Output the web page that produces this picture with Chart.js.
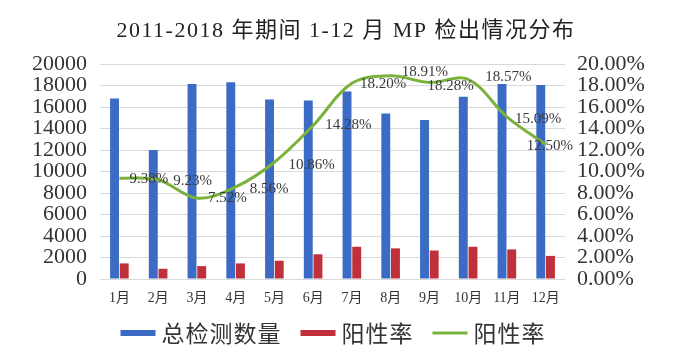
<!DOCTYPE html>
<html><head><meta charset="utf-8">
<script src="https://cdn.jsdelivr.net/npm/chart.js@4"></script>
<style>html,body{margin:0;padding:0;background:#fff}#wrap{width:684px;height:356px;position:relative}</style>
</head><body><div id="wrap"><canvas id="c"></canvas></div>
<script>
const categories = ['1月','2月','3月','4月','5月','6月','7月','8月','9月','10月','11月','12月'];
const totalTests = [16800,12000,18150,18300,16700,16600,17450,15400,14800,16950,18150,18050];
const positiveCount = [1450,950,1200,1450,1700,2300,3000,2850,2650,3000,2750,2150];
const positiveRate = [9.38,9.23,7.52,8.56,10.86,14.28,18.20,18.91,18.28,18.57,15.09,12.50];
const leftTicks = [0,2000,4000,6000,8000,10000,12000,14000,16000,18000,20000];
const rightTicks = [0,2,4,6,8,10,12,14,16,18,20];
const titleText = '2011-2018 年期间 1-12 月 MP 检出情况分布';

const serif = "'Liberation Serif','Noto Sans CJK SC',serif";
// label offsets (style only): left edge dx, dy from the point
const labelDx = [10,15,11,14,14,12,8,11,-2,17,8,-19];
const labelDy = [1,1,0,2,3,0,1,-4,4,-2,2,1];

const decor = {
  id:'decor',
  afterDatasetsDraw(chart){
    const meta = chart.getDatasetMeta(2);
    const ctx = chart.ctx;
    ctx.save();
    ctx.font = "15px " + serif;
    ctx.fillStyle = '#3a3a3a';
    ctx.textBaseline = 'middle';
    ctx.textAlign = 'left';
    meta.data.forEach((pt,i)=>{
      ctx.fillText(positiveRate[i].toFixed(2)+'%',pt.x+labelDx[i],pt.y+labelDy[i]);
    });
    ctx.restore();
  },
  afterDraw(chart){
    const ctx = chart.ctx;
    // title
    ctx.save();
    ctx.font = "22px " + serif;
    ctx.letterSpacing = '1.5px';
    ctx.fillStyle = '#222';
    ctx.textBaseline = 'middle';
    ctx.textAlign = 'center';
    ctx.fillText(titleText, 346, 31);
    ctx.restore();
    // legend
    ctx.save();
    ctx.font = "23px 'Noto Sans CJK SC',sans-serif";
    ctx.letterSpacing = '1px';
    ctx.textBaseline = 'middle';
    ctx.textAlign = 'left';
    const ds = chart.data.datasets;
    const boxW = 35, gap = 6, itemGap = 19, cy = 333;
    const widths = ds.map(d=>ctx.measureText(d.label).width);
    let total = 0;
    widths.forEach((w,i)=>{ total += boxW + gap + w + (i? itemGap:0); });
    let x = 333 - total/2;
    ds.forEach((d,i)=>{
      if(d.type==='line'){
        ctx.strokeStyle = d.borderColor; ctx.lineWidth = 3;
        ctx.beginPath(); ctx.moveTo(x, cy); ctx.lineTo(x+boxW, cy); ctx.stroke();
      } else {
        ctx.fillStyle = d.backgroundColor; ctx.fillRect(x, cy-3, boxW, 6);
      }
      ctx.fillStyle = '#333';
      ctx.fillText(d.label, x+boxW+gap, cy);
      x += boxW + gap + widths[i] + itemGap;
    });
    ctx.restore();
  }
};

new Chart(document.getElementById('c'),{
  data:{
    labels:categories,
    datasets:[
      {type:'bar',label:'总检测数量',data:totalTests,backgroundColor:'#3b6bc4',yAxisID:'y',order:2,categoryPercentage:0.5,barPercentage:0.92},
      {type:'bar',label:'阳性率',data:positiveCount,backgroundColor:'#c0303a',yAxisID:'y',order:2,categoryPercentage:0.5,barPercentage:0.92},
      {type:'line',label:'阳性率',data:positiveRate,borderColor:'#7ab33c',borderWidth:3,pointRadius:0,tension:0.35,yAxisID:'y1',order:1,fill:false}
    ]
  },
  options:{
    responsive:true,maintainAspectRatio:false,animation:false,
    layout:{padding:{left:0,right:0,top:64,bottom:47}},
    plugins:{
      title:{display:false},
      legend:{display:false},
      tooltip:{enabled:false}
    },
    scales:{
      x:{grid:{display:false,drawTicks:false},border:{display:false},afterFit(s){s.height=30;},ticks:{color:'#333',font:{family:serif,size:14},padding:11,maxRotation:0,autoSkip:false}},
      y:{position:'left',min:0,max:20000,afterBuildTicks(s){s.ticks=leftTicks.map(v=>({value:v}));},
        afterFit(s){s.width=100;},
        grid:{color:'#d9d9d9',drawTicks:false},border:{display:false},
        ticks:{color:'#333',font:{family:serif,size:22},padding:13,autoSkip:false,callback:v=>String(v)}},
      y1:{position:'right',min:0,max:20,afterBuildTicks(s){s.ticks=rightTicks.map(v=>({value:v}));},
        afterFit(s){s.width=119;},
        grid:{display:false,drawTicks:false},border:{display:false},
        ticks:{color:'#333',font:{family:serif,size:22},padding:12,autoSkip:false,callback:v=>v.toFixed(2)+'%'}}
    }
  },
  plugins:[decor]
});
</script></body></html>
